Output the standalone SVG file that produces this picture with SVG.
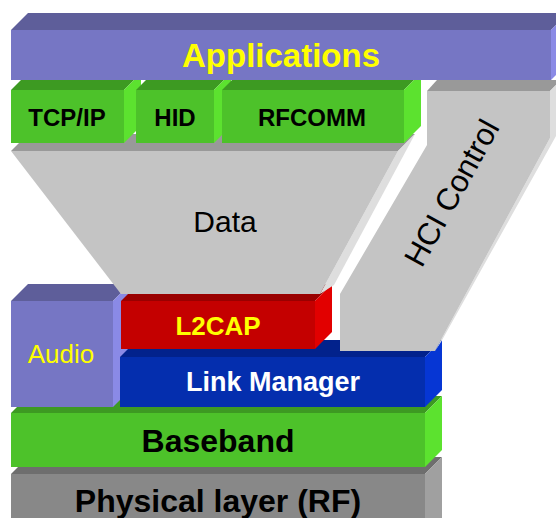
<svg xmlns="http://www.w3.org/2000/svg" width="556" height="518" viewBox="0 0 556 518">
<style>
text{font-family:"Liberation Sans",Arial,sans-serif;text-anchor:middle}
.b{font-weight:bold}
.pf{fill:#7676C4}.pt{fill:#5E5E9A}.ps{fill:#8A8AE6}
.gf{fill:#4DC22A}.gt{fill:#3D9A22}.gs{fill:#5CE22F}
.yf{fill:#C4C4C4}.yt{fill:#999999}.ys{fill:#DEDEDE}
.rf{fill:#C40000}.rt{fill:#990000}.rs{fill:#E20000}
.bf{fill:#042EAE}.bt{fill:#02228C}.bs{fill:#0636D4}
.kf{fill:#888888}.kt{fill:#6E6E6E}.ks{fill:#A0A0A0}
.yel{fill:#FFFF00}.blk{fill:#000}.wht{fill:#FFF}
</style>
<rect width="556" height="518" fill="#FFFFFF"/>

<g id="physical">
<polygon class="kt" points="11,474 28,457 442,457 425,474"/>
<polygon class="ks" points="425,474 442,457 442,518 425,518"/>
<rect class="kf" x="11" y="474" width="414" height="44"/>
<text class="b blk" x="218" y="512" font-size="32">Physical layer (RF)</text>
</g>

<g id="baseband">
<polygon class="gt" points="11,413 28,396 442,396 425,413"/>
<polygon class="gs" points="425,413 442,396 442,450 425,467"/>
<rect class="gf" x="11" y="413" width="414" height="54"/>
<text class="b blk" x="218" y="452" font-size="32">Baseband</text>
</g>

<g id="audio">
<polygon class="pt" points="11,301 28,284 130,284 113,301"/>
<polygon class="ps" points="113,301 130,284 130,390 113,407"/>
<rect class="pf" x="11" y="301" width="102" height="106"/>
<text class="yel" x="61" y="363" font-size="26">Audio</text>
</g>

<g id="link-manager">
<polygon class="bt" points="120,357 137,340 442,340 425,357"/>
<polygon class="bs" points="425,357 442,340 442,390 425,407"/>
<rect class="bf" x="120" y="357" width="305" height="50"/>
<text class="b wht" x="273" y="391" font-size="27">Link Manager</text>
</g>

<g id="l2cap">
<polygon class="rt" points="121,301 138,284 332,284 315,301"/>
<polygon class="rs" points="315,301 332,284 332,332 315,349"/>
<rect class="rf" x="121" y="301" width="194" height="48"/>
<text class="b yel" x="218" y="335" font-size="26">L2CAP</text>
</g>

<g id="data">
<polygon class="yt" points="11,151 28,134 415,134 398,151"/>
<polygon class="ys" points="398,151 415,134 334,285 320,294"/>
<polygon class="yf" points="11,151 398,151 320,294 121,294"/>
<text class="blk" x="225" y="232" font-size="30">Data</text>
</g>

<g id="hci-control">
<polygon class="yt" points="427,91 437,80 561,80 550,91"/>
<polygon class="ys" points="550,91 561,80 561,127 441,342 435,351 550,138"/>
<polygon class="yf" points="427,91 550,91 550,138 435,351 340,351 340,294 427,145"/>
<text class="blk" x="461" y="198" font-size="31" transform="rotate(-61 461 198)">HCI Control</text>
</g>

<g id="tcpip">
<polygon class="gt" points="11,90 28,73 141,73 124,90"/>
<polygon class="gs" points="124,90 141,73 141,126 124,143"/>
<rect class="gf" x="11" y="90" width="113" height="53"/>
<text class="b blk" x="67" y="126" font-size="24">TCP/IP</text>
</g>

<g id="hid">
<polygon class="gt" points="136,90 153,73 231,73 214,90"/>
<polygon class="gs" points="214,90 231,73 231,126 214,143"/>
<rect class="gf" x="136" y="90" width="78" height="53"/>
<text class="b blk" x="175" y="126" font-size="24">HID</text>
</g>

<g id="rfcomm">
<polygon class="gt" points="222,90 239,73 421,73 404,90"/>
<polygon class="gs" points="404,90 421,73 421,126 404,143"/>
<rect class="gf" x="222" y="90" width="182" height="53"/>
<text class="b blk" x="312" y="126" font-size="24">RFCOMM</text>
</g>

<g id="applications">
<polygon class="pt" points="11,30 28,13 568,13 551,30"/>
<polygon class="ps" points="551,30 568,13 568,63 551,80"/>
<rect class="pf" x="11" y="30" width="540" height="50"/>
<text class="b yel" x="281" y="67" font-size="33">Applications</text>
</g>
</svg>
